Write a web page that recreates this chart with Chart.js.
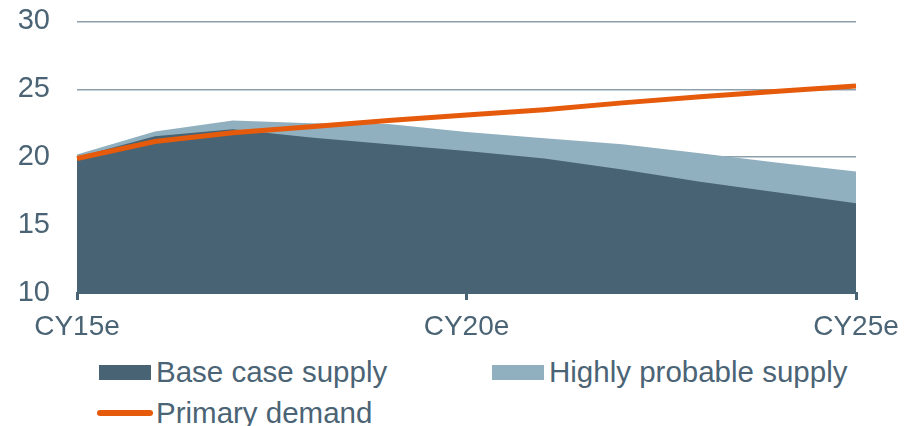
<!DOCTYPE html>
<html>
<head>
<meta charset="utf-8">
<script src="https://cdn.jsdelivr.net/npm/chart.js@4/dist/chart.umd.min.js"></script>
<style>
  html, body { margin: 0; padding: 0; background: #fff; overflow: hidden; }
  #wrap { position: relative; width: 909px; height: 426px; overflow: hidden; font-family: "Liberation Sans", Arial, sans-serif; }
  #box { position: absolute; left: 0; top: -23px; width: 909px; height: 366px; }
  .lg { position: absolute; font-size: 29.5px; line-height: 30px; color: #4b6475; white-space: nowrap; }
  .sw { position: absolute; }
</style>
</head>
<body>
<div id="wrap">
  <div id="box"><canvas id="supplyChart"></canvas></div>
  <div id="legend"></div>
</div>
<script>
const years = ['CY15e', 'CY16e', 'CY17e', 'CY18e', 'CY19e', 'CY20e', 'CY21e', 'CY22e', 'CY23e', 'CY24e', 'CY25e'];
const baseCase = [20.0, 21.55, 22.05, 21.45, 20.95, 20.45, 19.9, 19.1, 18.2, 17.4, 16.6];
const highlyProbable = [20.2, 21.9, 22.7, 22.5, 22.45, 21.85, 21.4, 20.95, 20.3, 19.6, 18.95];
const primaryDemand = [19.9, 21.15, 21.8, 22.25, 22.7, 23.1, 23.5, 24.0, 24.45, 24.85, 25.25];
const shownYears = ['CY15e', 'CY20e', 'CY25e'];

const dark = '#486374';
const light = '#91b0bf';
const orange = '#e65a0b';
const txt = '#4b6475';

const ctx = document.getElementById('supplyChart').getContext('2d');
new Chart(ctx, {
    type: 'line',
    data: {
        labels: years,
        datasets: [{
            label: 'Base case supply',
            data: baseCase,
            borderColor: dark,
            backgroundColor: dark,
            borderWidth: 0,
            pointRadius: 0,
            fill: 'start',
            order: 1
        }, {
            label: 'Highly probable supply',
            data: highlyProbable,
            borderColor: light,
            backgroundColor: light,
            borderWidth: 0,
            pointRadius: 0,
            fill: 'start',
            order: 2
        }, {
            label: 'Primary demand',
            data: primaryDemand,
            borderColor: orange,
            borderWidth: 5,
            pointRadius: 0,
            fill: false,
            order: 0
        }]
    },
    options: {
        responsive: true,
        maintainAspectRatio: false,
        animation: false,
        layout: { padding: { top: 0, right: 53, left: 0, bottom: 0 } },
        plugins: {
            legend: { display: false },
            tooltip: { enabled: false }
        },
        scales: {
            x: {
                offset: false,
                afterFit: function(scale) { scale.height = 50; },
                border: { color: dark, width: 2 },
                grid: {
                    drawOnChartArea: false,
                    tickLength: 7,
                    lineWidth: 3,
                    color: function(c) {
                        return shownYears.includes(years[c.index]) ? dark : 'rgba(0,0,0,0)';
                    }
                },
                ticks: {
                    autoSkip: false,
                    maxRotation: 0,
                    padding: 10,
                    color: txt,
                    font: { family: 'Liberation Sans', size: 28 },
                    callback: function(value, i) {
                        return shownYears.includes(years[i]) ? years[i] : '';
                    }
                }
            },
            y: {
                min: 10,
                max: 30,
                afterFit: function(scale) { scale.width = 77; },
                border: { display: false },
                grid: { color: '#8c9fab', lineWidth: 1.5, drawTicks: false },
                ticks: {
                    stepSize: 5,
                    padding: 27,
                    color: txt,
                    font: { family: 'Liberation Sans', size: 29 }
                }
            }
        }
    }
});

// legend built from the same labels
const legendItems = [
    { label: 'Base case supply', kind: 'box', color: dark, x: 99, y: 357 },
    { label: 'Highly probable supply', kind: 'box', color: light, x: 492, y: 357 },
    { label: 'Primary demand', kind: 'line', color: orange, x: 97, y: 398 }
];
const legend = document.getElementById('legend');
legendItems.forEach(function(it) {
    const sw = document.createElement('div');
    sw.className = 'sw';
    sw.style.background = it.color;
    if (it.kind === 'box') {
        sw.style.left = it.x + 'px';
        sw.style.top = (it.y + 8) + 'px';
        sw.style.width = '52px';
        sw.style.height = '15px';
    } else {
        sw.style.left = it.x + 'px';
        sw.style.top = (it.y + 12) + 'px';
        sw.style.width = '56px';
        sw.style.height = '6px';
        sw.style.borderRadius = '3px';
    }
    legend.appendChild(sw);
    const t = document.createElement('div');
    t.className = 'lg';
    t.style.left = (it.x + (it.kind === 'box' ? 57 : 59)) + 'px';
    t.style.top = it.y + 'px';
    t.textContent = it.label;
    legend.appendChild(t);
});
</script>
</body>
</html>
